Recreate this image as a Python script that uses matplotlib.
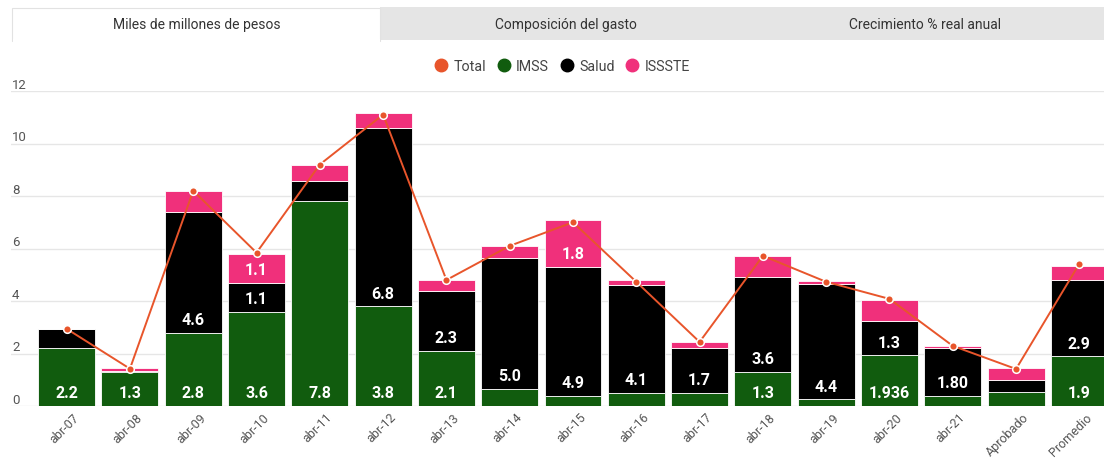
import numpy as np
import matplotlib
matplotlib.use("Agg")
import matplotlib.pyplot as plt
from matplotlib.patches import Rectangle
from matplotlib.lines import Line2D
import matplotlib.transforms as mtransforms

plt.rcParams['font.family'] = ['Roboto', 'DejaVu Sans']

# Data (miles de millones de pesos)
categories = ["abr-07", "abr-08", "abr-09", "abr-10", "abr-11", "abr-12", "abr-13",
              "abr-14", "abr-15", "abr-16", "abr-17", "abr-18", "abr-19", "abr-20",
              "abr-21", "Aprobado", "Promedio"]
imss = [2.2, 1.3, 2.8, 3.6, 7.8, 3.8, 2.1, 0.65, 0.4, 0.5, 0.5, 1.3, 0.25, 1.936, 0.4, 0.53, 1.9]
salud = [0.72, 0.05, 4.6, 1.1, 0.78, 6.8, 2.3, 5.0, 4.9, 4.1, 1.7, 3.6, 4.4, 1.3, 1.80, 0.47, 2.9]
issste = [0.03, 0.1, 0.8, 1.1, 0.6, 0.55, 0.4, 0.45, 1.8, 0.2, 0.25, 0.8, 0.1, 0.8, 0.1, 0.45, 0.55]
total = [2.94, 1.42, 8.2, 5.84, 9.2, 11.1, 4.8, 6.1, 7.0, 4.73, 2.44, 5.72, 4.73, 4.08, 2.29, 1.41, 5.42]

imss_labels = ["2.2", "1.3", "2.8", "3.6", "7.8", "3.8", "2.1", "", "", "", "", "1.3", "", "1.936", "", "", "1.9"]
salud_labels = ["", "", "4.6", "1.1", "", "6.8", "2.3", "5.0", "4.9", "4.1", "1.7", "3.6", "4.4", "1.3", "1.80", "", "2.9"]
issste_labels = ["", "", "", "1.1", "", "", "", "", "1.8", "", "", "", "", "", "", "", ""]

tabs = ["Miles de millones de pesos", "Composición del gasto", "Crecimiento % real anual"]
yticks = [0, 2, 4, 6, 8, 10, 12]

c_total = '#E8552B'
c_imss = '#115C0E'
c_salud = '#000000'
c_issste = '#F0307B'

W, H = 1104, 460
fig = plt.figure(figsize=(W / 100, H / 100), dpi=100)
fig.patch.set_facecolor('white')

# background overlay for tabs (pixel coords)
bg = fig.add_axes([0, 0, 1, 1], zorder=-1)
bg.set_xlim(0, W)
bg.set_ylim(H, 0)
bg.axis('off')
bg.add_patch(Rectangle((380, 8), W - 380, 33, facecolor='#e5e5e5', edgecolor='none'))
bg.add_patch(Rectangle((12, 9), 368, 33, facecolor='white', edgecolor='#e2e2e2', linewidth=0.8))
bg.add_patch(Rectangle((12.5, 40), 367, 4, facecolor='white', edgecolor='none'))
for t, xc in zip(tabs, [197, 566, 925]):
    bg.text(xc, 25, t, ha='center', va='center', fontsize=10, color='#333333')

# main axes
left_px, right_px = 11, 1111
ax = fig.add_axes([left_px / W, 1 - 407 / H, (right_px - left_px) / W, 315 / H])
x = np.arange(len(categories))
band = 63.3
ax.set_xlim(-0.5 - (35 - left_px) / band, len(categories) - 0.5)
ax.set_ylim(0, 12)

bw = 0.9
imss_a = np.array(imss)
salud_a = np.array(salud)
issste_a = np.array(issste)
ax.bar(x, imss_a, bw, color=c_imss, edgecolor='white', linewidth=0.6, zorder=2)
ax.bar(x, salud_a, bw, bottom=imss_a, color=c_salud, edgecolor='white', linewidth=0.6, zorder=2)
ax.bar(x, issste_a, bw, bottom=imss_a + salud_a, color=c_issste, edgecolor='white', linewidth=0.6, zorder=2)

ax.plot(x, total, color=c_total, linewidth=1.4, marker='o', markersize=5.5,
        markerfacecolor=c_total, markeredgecolor='white', markeredgewidth=1.1, zorder=4)

# data labels, placed at segment base
off = mtransforms.offset_copy(ax.transData, fig=fig, x=0, y=4, units='points')
lbl = dict(ha='center', va='bottom', fontsize=11.5, fontweight='bold', color='white', zorder=5)
for i in x:
    if imss_labels[i]:
        ax.text(i, 0, imss_labels[i], transform=off, **lbl)
    if salud_labels[i]:
        ax.text(i, imss[i], salud_labels[i], transform=off, **lbl)
    if issste_labels[i]:
        ax.text(i, imss[i] + salud[i], issste_labels[i], transform=off, **lbl)

# grid and axes styling
ax.set_yticks(yticks)
ax.set_yticklabels([])
ax.tick_params(axis='y', length=0)
ax.grid(axis='y', color='#e6e6e6', linewidth=1, zorder=0)
ax.set_axisbelow(True)
for s in ax.spines.values():
    s.set_visible(False)
ytrans = mtransforms.blended_transform_factory(fig.transFigure, ax.transData)
for yt in yticks:
    ax.text(12 / W, yt, str(yt), transform=ytrans, ha='left', va='bottom',
            fontsize=9.5, color='#555555')

ax.set_xticks(x)
ax.set_xticklabels(categories, rotation=45, ha='right', rotation_mode='anchor',
                   fontsize=9, color='#555555')
ax.tick_params(axis='x', length=0, pad=3)
for t in ax.get_xticklabels():
    t.set_transform(t.get_transform() + mtransforms.ScaledTranslation(6 / 100, 0, fig.dpi_scale_trans))

# legend
handles = [Line2D([], [], linestyle='none', marker='o', markersize=9, color=c)
           for c in [c_total, c_imss, c_salud, c_issste]]
fig.legend(handles, ["Total", "IMSS", "Salud", "ISSSTE"], loc='center', ncol=4,
           bbox_to_anchor=(562 / W, 1 - 67 / H), frameon=False, fontsize=10.3,
           handletextpad=0.35, columnspacing=0.75, handlelength=1.0, labelcolor='#444444')

fig.savefig("out.png", dpi=100, facecolor='white')
